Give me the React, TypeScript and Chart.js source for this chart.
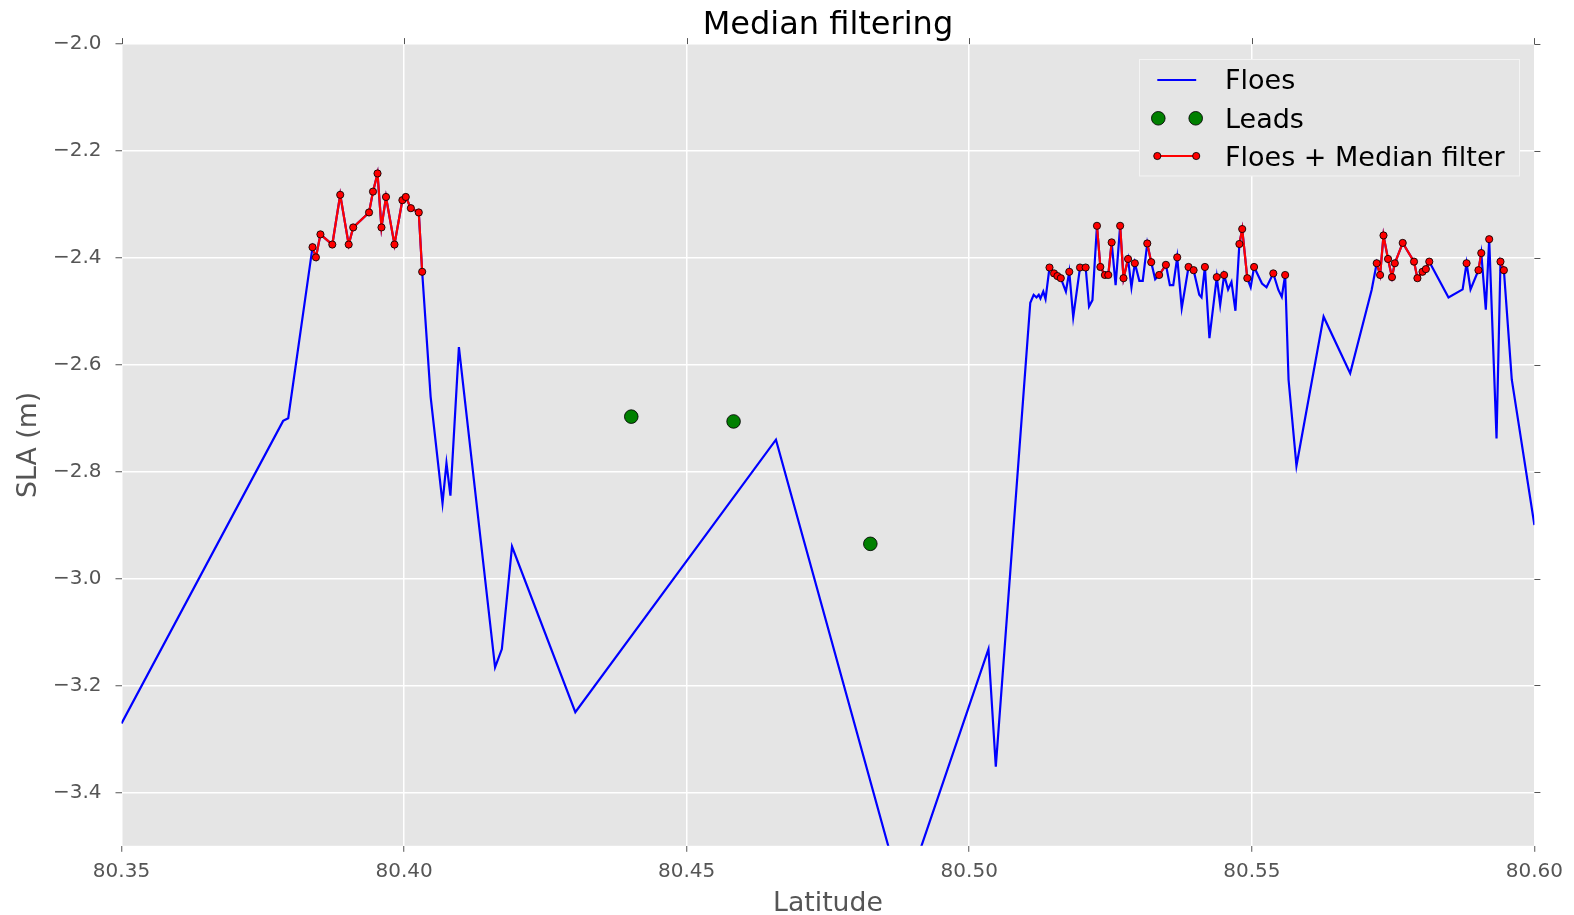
import { useEffect, useRef } from "react";
import { Chart, registerables } from "chart.js";

Chart.register(...registerables);

// Along-track latitude of each floe sample (degrees N)
const latitude = [
  80.35, 80.3786, 80.3795, 80.3838, 80.3844, 80.3852, 80.3873, 80.3887, 80.3902, 80.391,
  80.3938, 80.3945, 80.3953, 80.396, 80.3968, 80.3983, 80.3997, 80.4003, 80.4012, 80.4026,
  80.4032, 80.4047, 80.4068, 80.4075, 80.4082, 80.4097, 80.4161, 80.4173, 80.4191, 80.4303,
  80.4658, 80.4883, 80.5034, 80.5047, 80.5108, 80.5114, 80.5119, 80.5123, 80.5126, 80.5131,
  80.5135, 80.5142, 80.515, 80.5156, 80.5162, 80.5171, 80.5177, 80.5184, 80.5196, 80.5206,
  80.5212, 80.5218, 80.5226, 80.5232, 80.524, 80.5246, 80.5252, 80.5259, 80.5267, 80.5273,
  80.5281, 80.5287, 80.5293, 80.5301, 80.5307, 80.5315, 80.5322, 80.5329, 80.5336, 80.5348,
  80.5355, 80.5361, 80.5368, 80.5376, 80.5388, 80.5397, 80.5407, 80.5411, 80.5417, 80.5425,
  80.5438, 80.5444, 80.5451, 80.5458, 80.5464, 80.5471, 80.5478, 80.5483, 80.5492, 80.5498,
  80.5504, 80.5518, 80.5526, 80.5538, 80.5547, 80.5553, 80.5559, 80.5565, 80.5579, 80.5627,
  80.5674, 80.5712, 80.5721, 80.5727, 80.5733, 80.5741, 80.5748, 80.5753, 80.5767, 80.5787,
  80.5793, 80.5802, 80.5808, 80.5814, 80.5848, 80.5873, 80.588, 80.5887, 80.5901, 80.5906,
  80.5914, 80.592, 80.5933, 80.594, 80.5946, 80.596, 80.6,
];

// Sea level anomaly over floes (m)
const floes = [
  -3.271, -2.705, -2.7, -2.38, -2.399, -2.356, -2.375, -2.282, -2.375, -2.343,
  -2.315, -2.276, -2.242, -2.343, -2.286, -2.375, -2.292, -2.286, -2.307, -2.315,
  -2.426, -2.66, -2.859, -2.784, -2.845, -2.567, -3.166, -3.132, -2.94, -3.25,
  -2.74, -3.601, -3.132, -3.352, -2.484, -2.469, -2.474, -2.469, -2.476, -2.463,
  -2.477, -2.418, -2.429, -2.434, -2.438, -2.463, -2.426, -2.511, -2.418, -2.418,
  -2.491, -2.479, -2.34, -2.417, -2.432, -2.432, -2.371, -2.451, -2.34, -2.438,
  -2.402, -2.455, -2.41, -2.443, -2.443, -2.373, -2.408, -2.44, -2.432, -2.413,
  -2.451, -2.451, -2.399, -2.494, -2.417, -2.423, -2.469, -2.474, -2.417, -2.55,
  -2.436, -2.488, -2.432, -2.459, -2.445, -2.499, -2.374, -2.346, -2.438, -2.455,
  -2.417, -2.448, -2.455, -2.429, -2.46, -2.473, -2.432, -2.628, -2.789, -2.51,
  -2.616, -2.46, -2.41, -2.432, -2.358, -2.402, -2.436, -2.41, -2.372, -2.407,
  -2.438, -2.426, -2.421, -2.407, -2.474, -2.459, -2.41, -2.459, -2.423, -2.391,
  -2.497, -2.365, -2.738, -2.407, -2.423, -2.628, -2.9,
];

// 1 where a floe sample is kept by the median filter
const medianMask = [
  0, 0, 0, 1, 1, 1, 1, 1, 1, 1,
  1, 1, 1, 1, 1, 1, 1, 1, 1, 1,
  1, 0, 0, 0, 0, 0, 0, 0, 0, 0,
  0, 0, 0, 0, 0, 0, 0, 0, 0, 0,
  0, 1, 1, 1, 1, 0, 1, 0, 1, 1,
  0, 0, 1, 1, 1, 1, 1, 0, 1, 1,
  1, 0, 1, 0, 0, 1, 1, 0, 1, 1,
  0, 0, 1, 0, 1, 1, 0, 0, 1, 0,
  1, 0, 1, 0, 0, 0, 1, 1, 1, 0,
  1, 0, 0, 1, 0, 0, 1, 0, 0, 0,
  0, 0, 1, 1, 1, 1, 1, 1, 1, 1,
  1, 1, 1, 1, 0, 0, 1, 0, 1, 1,
  0, 1, 0, 1, 1, 0, 0,
];

// Lead (open water) samples
const leadLatitude = [80.4402, 80.4583, 80.4825];
const leadSla = [-2.697, -2.706, -2.935];

const xTicks = [80.35, 80.4, 80.45, 80.5, 80.55, 80.6];
const yTicks = [-2.0, -2.2, -2.4, -2.6, -2.8, -3.0, -3.2, -3.4];

const FONT = '"DejaVu Sans", sans-serif';
const TICK_GRAY = "#555555";
const PANEL_BG = "#E5E5E5";

const floePoints = latitude.map((x, i) => ({ x, y: floes[i] }));
const medianPoints = latitude.map((x, i) => ({ x, y: medianMask[i] ? floes[i] : null }));
const leadPoints = leadLatitude.map((x, i) => ({ x, y: leadSla[i] }));

// Grey panel behind the grid
const panelBackground = {
  id: "panelBackground",
  beforeDraw(chart: any) {
    const { ctx, chartArea: a } = chart;
    ctx.save();
    ctx.fillStyle = PANEL_BG;
    ctx.fillRect(a.left, a.top, a.right - a.left, a.bottom - a.top);
    ctx.restore();
  },
};

// Outward tick marks on the top and right edges
const mirroredTicks = {
  id: "mirroredTicks",
  afterDraw(chart: any) {
    const { ctx, chartArea: a, scales } = chart;
    ctx.save();
    ctx.strokeStyle = TICK_GRAY;
    ctx.lineWidth = 1;
    ctx.beginPath();
    xTicks.forEach((v) => {
      const px = Math.round(scales.x.getPixelForValue(v)) + 0.5;
      ctx.moveTo(px, a.top);
      ctx.lineTo(px, a.top - 6);
    });
    yTicks.forEach((v) => {
      const py = Math.round(scales.y.getPixelForValue(v)) + 0.5;
      ctx.moveTo(a.right, py);
      ctx.lineTo(a.right + 6, py);
    });
    ctx.stroke();
    ctx.restore();
  },
};

function drawMarker(ctx: CanvasRenderingContext2D, x: number, y: number, r: number, fill: string) {
  ctx.beginPath();
  ctx.arc(x, y, r, 0, Math.PI * 2);
  ctx.fillStyle = fill;
  ctx.fill();
  ctx.lineWidth = 1;
  ctx.strokeStyle = "rgba(0,0,0,0.85)";
  ctx.stroke();
}

// Figure title and the legend box in the upper right of the panel
const titleAndLegend = {
  id: "titleAndLegend",
  afterDraw(chart: any) {
    const { ctx, chartArea: a } = chart;
    const ds = chart.data.datasets;
    ctx.save();
    ctx.fillStyle = "#000000";
    ctx.font = `32px ${FONT}`;
    ctx.textAlign = "center";
    ctx.textBaseline = "alphabetic";
    ctx.fillText("Median filtering", (a.left + a.right) / 2, 33.5);

    const boxL = 1139.5, boxT = 59.5, boxW = 380, boxH = 116.5;
    ctx.fillStyle = PANEL_BG;
    ctx.fillRect(boxL, boxT, boxW, boxH);
    ctx.strokeStyle = "#f4f4f4";
    ctx.lineWidth = 1;
    ctx.strokeRect(boxL, boxT, boxW, boxH);

    const h0 = 1157.3, h1 = 1196.2, textX = 1225;
    const rows = [80, 118.3, 156];
    const baselines = [89.3, 128.3, 166];

    // Floes: plain line
    ctx.strokeStyle = ds[0].borderColor;
    ctx.lineWidth = ds[0].borderWidth;
    ctx.beginPath();
    ctx.moveTo(h0, rows[0]);
    ctx.lineTo(h1, rows[0]);
    ctx.stroke();

    // Leads: two markers
    drawMarker(ctx, h0 + 1, rows[1], ds[1].pointRadius, ds[1].pointBackgroundColor);
    drawMarker(ctx, h1 - 0.5, rows[1], ds[1].pointRadius, ds[1].pointBackgroundColor);

    // Median filter: line with end markers
    ctx.strokeStyle = ds[2].borderColor;
    ctx.lineWidth = ds[2].borderWidth;
    ctx.beginPath();
    ctx.moveTo(h0, rows[2]);
    ctx.lineTo(h1, rows[2]);
    ctx.stroke();
    drawMarker(ctx, h0, rows[2], ds[2].pointRadius, ds[2].pointBackgroundColor);
    drawMarker(ctx, h1, rows[2], ds[2].pointRadius, ds[2].pointBackgroundColor);

    ctx.fillStyle = "#000000";
    ctx.font = `27px ${FONT}`;
    ctx.textAlign = "left";
    ctx.textBaseline = "alphabetic";
    ds.forEach((d: any, i: number) => ctx.fillText(d.label, textX, baselines[i]));
    ctx.restore();
  },
};

export default function App() {
  const canvasRef = useRef<HTMLCanvasElement>(null);

  useEffect(() => {
    document.body.style.margin = "0";
    document.body.style.overflow = "hidden";
    const canvas = canvasRef.current;
    if (!canvas) return;

    const chart = new Chart(canvas, {
      type: "line",
      data: {
        datasets: [
          {
            label: "Floes",
            data: floePoints,
            borderColor: "#0000ff",
            borderWidth: 2.2,
            pointRadius: 0,
            tension: 0,
            clip: 0,
            order: 3,
          },
          {
            label: "Leads",
            data: leadPoints,
            showLine: false,
            pointRadius: 6.8,
            pointBackgroundColor: "#008000",
            pointBorderColor: "rgba(0,0,0,0.85)",
            pointBorderWidth: 1,
            borderColor: "#008000",
            order: 2,
          },
          {
            label: "Floes + Median filter",
            data: medianPoints,
            borderColor: "#ff0000",
            borderWidth: 2.2,
            pointRadius: 3.6,
            pointBackgroundColor: "#ff0000",
            pointBorderColor: "rgba(0,0,0,0.85)",
            pointBorderWidth: 1,
            spanGaps: false,
            tension: 0,
            order: 1,
          },
        ] as any,
      },
      options: {
        responsive: false,
        animation: false,
        devicePixelRatio: 1,
        events: [],
        layout: { padding: { top: 44.1, right: 39.6, left: 0, bottom: 0 } },
        plugins: {
          legend: { display: false },
          tooltip: { enabled: false },
          title: { display: false },
        },
        scales: {
          x: {
            type: "linear",
            min: 80.35,
            max: 80.6,
            afterBuildTicks: (axis: any) => {
              axis.ticks = xTicks.map((value) => ({ value }));
            },
            afterFit: (axis: any) => {
              axis.height = 69.2;
            },
            ticks: {
              callback: (v: any) => Number(v).toFixed(2),
              color: TICK_GRAY,
              font: { family: FONT, size: 20 },
              padding: 8,
              maxRotation: 0,
              autoSkip: false,
            },
            grid: {
              color: "#ffffff",
              lineWidth: 1.5,
              tickColor: TICK_GRAY,
              tickLength: 6,
              tickWidth: 1,
            },
            border: { display: false },
            title: {
              display: true,
              text: "Latitude",
              color: TICK_GRAY,
              font: { family: FONT, size: 26.7, lineHeight: 1 },
              padding: { top: 0, bottom: -2.1 },
            },
          },
          y: {
            type: "linear",
            min: -3.5,
            max: -2.0,
            afterBuildTicks: (axis: any) => {
              axis.ticks = yTicks.map((value) => ({ value }));
            },
            afterFit: (axis: any) => {
              axis.width = 121.5;
            },
            ticks: {
              callback: (v: any) => (Number(v) < 0 ? "\u2212" : "") + Math.abs(Number(v)).toFixed(1),
              color: TICK_GRAY,
              font: { family: FONT, size: 20 },
              padding: 14,
              autoSkip: false,
            },
            grid: {
              color: "#ffffff",
              lineWidth: 1.5,
              tickColor: TICK_GRAY,
              tickLength: 6,
              tickWidth: 1,
            },
            border: { display: false },
            title: {
              display: true,
              text: "SLA (m)",
              color: TICK_GRAY,
              font: { family: FONT, size: 26.7, lineHeight: 1 },
              padding: { top: 16.2, bottom: 0 },
            },
          },
        },
      },
      plugins: [panelBackground, mirroredTicks, titleAndLegend],
    });

    return () => chart.destroy();
  }, []);

  return <canvas ref={canvasRef} width={1574} height={915} style={{ display: "block" }} />;
}
